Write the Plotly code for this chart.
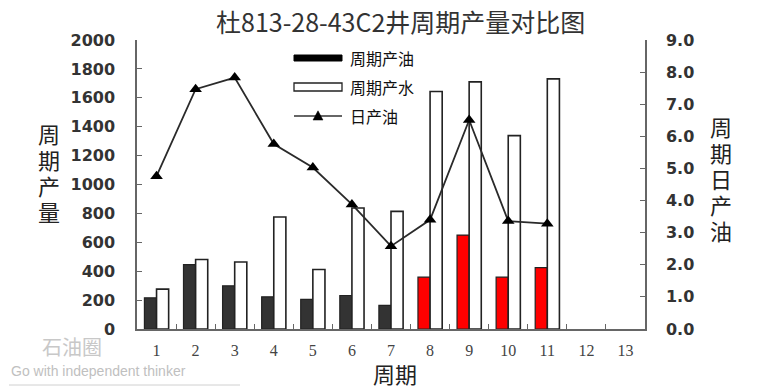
import plotly.graph_objects as go

# ---- data ----
cycles = [str(i) for i in range(1, 14)]
data_cycles = [str(i) for i in range(1, 12)]
cycle_oil = [216, 446, 299, 223, 205, 232, 163, 359, 650, 359, 425]
cycle_water = [276, 481, 464, 775, 412, 837, 814, 1644, 1710, 1338, 1731]
daily_oil = [4.76, 7.47, 7.83, 5.76, 5.03, 3.88, 2.58, 3.40, 6.51, 3.36, 3.28]
y1_ticks = list(range(0, 2001, 200))
y2_ticks = [float(i) for i in range(0, 10)]

title = "杜813-28-43C2井周期产量对比图"
names = ["周期产油", "周期产水", "日产油"]
y1_title = "周期产量"
y2_title = "周期日产油"
x_title = "周期"

highlight_from = 8
oil_colors = ["#ff0000" if int(c) >= highlight_from else "#333333" for c in data_cycles]

fig = go.Figure()
fig.add_trace(go.Bar(x=data_cycles, y=cycle_oil, name=names[0],
                     marker=dict(color=oil_colors, line=dict(color="#222", width=1.2))))
fig.add_trace(go.Bar(x=data_cycles, y=cycle_water, name=names[1],
                     marker=dict(color="white", line=dict(color="#222", width=1.6))))
fig.add_trace(go.Scatter(x=data_cycles, y=daily_oil, name=names[2], yaxis="y2",
                         mode="lines+markers",
                         line=dict(color="#2a2a2a", width=1.8),
                         marker=dict(symbol="triangle-up", size=11, color="black")))

tickfont = dict(family="DejaVu Sans", size=16, color="#333", weight="bold")
axline = dict(showline=True, linecolor="#666", linewidth=1.5, showgrid=False, zeroline=False)

# page body has an 8px default margin: size the figure so the plot area lands at
# x 137..645, y 40..329 of the 775x388 window
fig.update_layout(
    width=767, height=380,
    margin=dict(l=129, r=130, t=32, b=59),
    paper_bgcolor="white", plot_bgcolor="white",
    showlegend=False,
    barmode="group", bargap=0.38, bargroupgap=0,
    xaxis=dict(type="category", categoryorder="array", categoryarray=cycles,
               tickvals=cycles, ticktext=cycles, range=[-0.5, 12.5],
               tickson="boundaries", ticks="inside", ticklen=5,
               tickcolor="#666", ticklabelstandoff=6,
               tickfont=dict(family="Liberation Serif", size=16, color="#444"),
               **axline),
    yaxis=dict(range=[0, 2000], tickvals=y1_ticks, ticks="inside", ticklen=5,
               tickcolor="#666", ticklabelstandoff=17, tickfont=tickfont, **axline),
    yaxis2=dict(range=[0, 9], tickvals=y2_ticks, tickformat=".1f", overlaying="y",
                side="right", ticks="inside", ticklen=5, tickcolor="#666",
                ticklabelstandoff=16, tickfont=tickfont, **axline),
)

def px_x(p):
    return (p - 137) / 508

def px_y(p):
    return (329 - p) / 289

cjk = "Noto Sans CJK SC"

# title
fig.add_annotation(text=title, xref="paper", yref="paper", x=px_x(400), y=px_y(21),
                   xanchor="center", yanchor="middle", showarrow=False,
                   font=dict(family=cjk, size=25, color="#333"))
# x axis title
fig.add_annotation(text=x_title, xref="paper", yref="paper", x=px_x(395), y=px_y(373),
                   xanchor="center", yanchor="middle", showarrow=False,
                   font=dict(family=cjk, size=22, color="#222"))

# y axis titles: one character per line, stacked vertically
for i, ch in enumerate(y1_title):
    fig.add_annotation(text=ch, xref="paper", yref="paper",
                       x=px_x(49), y=px_y(133 + 26 * i), xanchor="center", yanchor="middle",
                       showarrow=False, font=dict(family=cjk, size=22, color="#222"))
for i, ch in enumerate(y2_title):
    fig.add_annotation(text=ch, xref="paper", yref="paper",
                       x=px_x(721), y=px_y(126 + 26 * i), xanchor="center", yanchor="middle",
                       showarrow=False, font=dict(family=cjk, size=22, color="#222"))

# custom legend
lx0, lx1, tx = px_x(294), px_x(342), px_x(348)
fig.add_shape(type="rect", xref="paper", yref="paper", x0=lx0, x1=lx1,
              y0=px_y(61), y1=px_y(55), fillcolor="black", line=dict(color="black", width=1))
fig.add_shape(type="rect", xref="paper", yref="paper", x0=lx0, x1=lx1,
              y0=px_y(91), y1=px_y(83), fillcolor="white", line=dict(color="#222", width=1.3))
fig.add_shape(type="line", xref="paper", yref="paper", x0=lx0, x1=lx1,
              y0=px_y(116), y1=px_y(116), line=dict(color="#333", width=1.6))
cx, cy = px_x(318), px_y(116)
fig.add_shape(type="path", xref="paper", yref="paper",
              path=f"M {cx-0.0098},{cy-0.014} L {cx+0.0098},{cy-0.014} L {cx},{cy+0.018} Z",
              fillcolor="black", line=dict(color="black", width=0.5))
for name, yy in zip(names, [58, 87, 116]):
    fig.add_annotation(text=name, xref="paper", yref="paper", x=tx, y=px_y(yy),
                       xanchor="left", yanchor="middle", showarrow=False,
                       font=dict(family=cjk, size=16, color="#111"))

# watermark
fig.add_annotation(text="石油圈", xref="paper", yref="paper", x=px_x(40), y=px_y(346),
                   xanchor="left", yanchor="middle", showarrow=False,
                   font=dict(family=cjk, size=20, color="#c8c8c8"))
fig.add_annotation(text="Go with independent thinker", xref="paper", yref="paper",
                   x=px_x(9), y=px_y(371), xanchor="left", yanchor="middle",
                   showarrow=False,
                   font=dict(family="Liberation Sans", size=14, color="#c0c0c0"))
fig.add_shape(type="line", xref="paper", yref="paper", x0=px_x(9), x1=px_x(240),
              y0=px_y(385), y1=px_y(385), line=dict(color="#d0d0d0", width=1))

fig.write_html("out.html")
